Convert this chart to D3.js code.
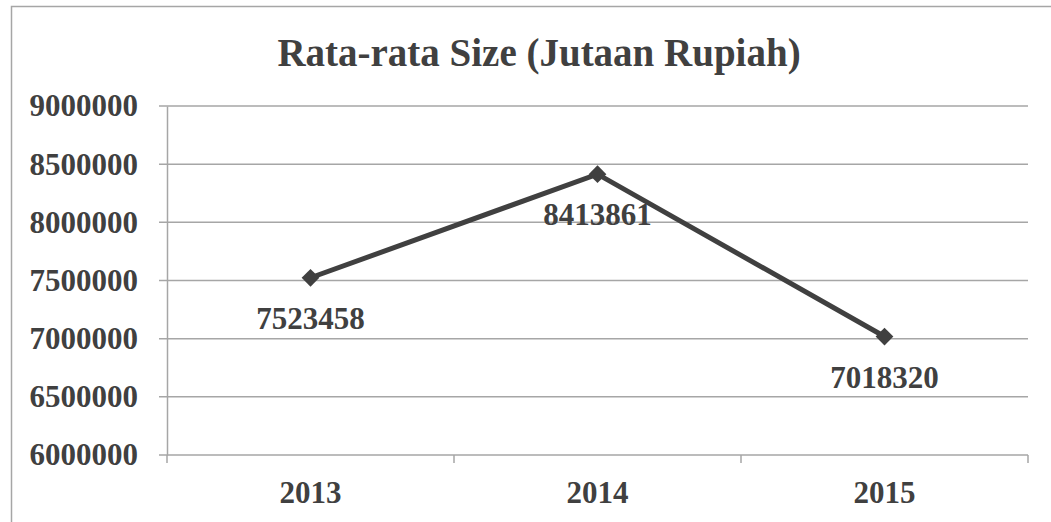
<!DOCTYPE html>
<html>
<head>
<meta charset="utf-8">
<script src="https://cdn.jsdelivr.net/npm/d3@7"></script>
<style>
  body { margin: 0; background: #fff; }
  svg text { font-family: "Liberation Serif", "Times New Roman", serif; font-weight: bold; fill: #404040; }
</style>
</head>
<body>
<div id="chart"></div>
<script>
// chart data
const years = ["2013", "2014", "2015"];
const sizeValues = [7523458, 8413861, 7018320];
const yTicks = [6000000, 6500000, 7000000, 7500000, 8000000, 8500000, 9000000];
const title = "Rata-rata Size (Jutaan Rupiah)";

const W = 1051, H = 522;
const margin = { top: 106, right: 23, bottom: 67, left: 167 },
    width = W - margin.left - margin.right,
    height = H - margin.top - margin.bottom;

const root = d3.select("#chart").append("svg")
    .attr("width", W)
    .attr("height", H);

// outer chart border
root.append("rect")
    .attr("x", 11.5)
    .attr("y", 6.5)
    .attr("width", W + 10)
    .attr("height", H + 10)
    .attr("fill", "none")
    .attr("stroke", "#a6a6a6")
    .attr("stroke-width", 1.5);

root.append("text")
    .attr("x", 539)
    .attr("y", 66)
    .attr("text-anchor", "middle")
    .style("font-size", "39px")
    .text(title);

const svg = root.append("g")
    .attr("transform", `translate(${margin.left},${margin.top})`);

const x = d3.scaleBand()
    .domain(years)
    .range([0, width]);

const y = d3.scaleLinear()
    .domain([6000000, 9000000])
    .range([height, 0]);

// gridlines
svg.append("g")
    .selectAll("line")
    .data(yTicks)
    .join("line")
    .attr("x1", -8)
    .attr("x2", width)
    .attr("y1", d => y(d))
    .attr("y2", d => y(d))
    .attr("stroke", "#a6a6a6")
    .attr("stroke-width", 1.5);

// y axis
const yAxis = svg.append("g")
    .call(d3.axisLeft(y).tickValues(yTicks).tickSize(0).tickPadding(29).tickFormat(d3.format("d")));
yAxis.select(".domain").attr("stroke", "#a6a6a6").attr("stroke-width", 1.5);
yAxis.selectAll("text").style("font-size", "31px").attr("fill", "#404040").attr("font-family", null);

// x axis with ticks between categories
const xAxis = svg.append("g")
    .attr("transform", `translate(0,${height})`)
    .call(d3.axisBottom(x).tickSize(0).tickPadding(26));
xAxis.select(".domain").remove();
xAxis.selectAll("text").style("font-size", "31px").attr("fill", "#404040").attr("font-family", null);

svg.append("g")
    .selectAll("line")
    .data([0, 1, 2, 3])
    .join("line")
    .attr("x1", i => i * x.step())
    .attr("x2", i => i * x.step())
    .attr("y1", height)
    .attr("y2", height + 8)
    .attr("stroke", "#a6a6a6")
    .attr("stroke-width", 1.5);

const pts = years.map((yr, i) => ({ yr, v: sizeValues[i] }));
const cx = d => x(d.yr) + x.bandwidth() / 2;

const line = d3.line()
    .x(cx)
    .y(d => y(d.v));

svg.append("path")
    .datum(pts)
    .attr("fill", "none")
    .attr("stroke", "#404040")
    .attr("stroke-width", 5)
    .attr("d", line);

svg.append("g")
    .selectAll("path")
    .data(pts)
    .join("path")
    .attr("transform", d => `translate(${cx(d)},${y(d.v)})`)
    .attr("d", d3.symbol(d3.symbolDiamond2, 200))
    .attr("fill", "#404040");

// data labels below points
svg.append("g")
    .selectAll("text")
    .data(pts)
    .join("text")
    .attr("x", cx)
    .attr("y", d => y(d.v) + 51)
    .attr("text-anchor", "middle")
    .style("font-size", "31px")
    .text(d => d.v);
</script>
</body>
</html>
